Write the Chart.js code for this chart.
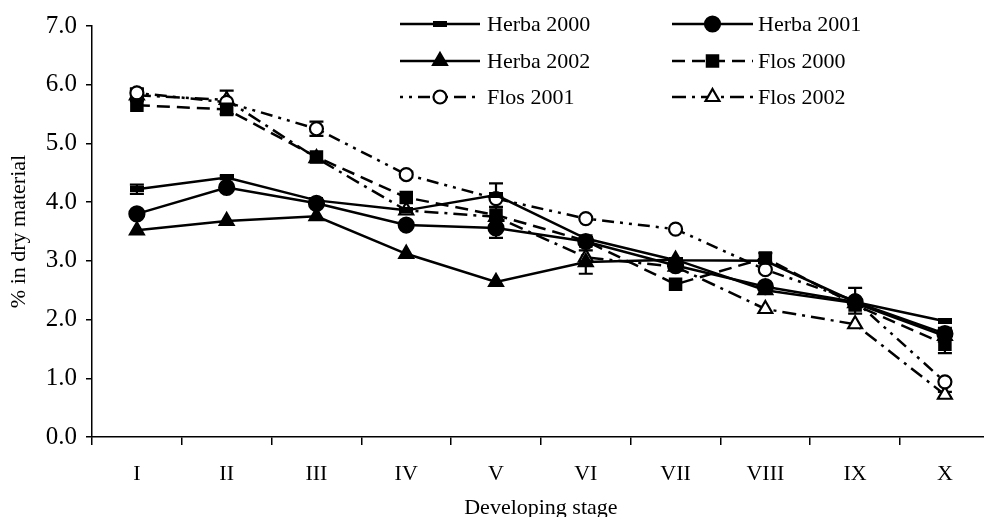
<!DOCTYPE html>
<html>
<head>
<meta charset="utf-8">
<script src="https://cdn.jsdelivr.net/npm/chart.js@4.4.1/dist/chart.umd.min.js"></script>
<style>
html,body{margin:0;padding:0;background:#fff;overflow:hidden;}
#wrap{width:984px;height:517px;position:relative;overflow:hidden;}
</style>
</head>
<body>
<div id="wrap"><canvas id="c" width="1000" height="517"></canvas></div>
<script>
const stages = ['I','II','III','IV','V','VI','VII','VIII','IX','X'];
const yTicks = [0,1,2,3,4,5,6,7];
const seriesNames = ['Herba 2000','Herba 2001','Herba 2002','Flos 2000','Flos 2001','Flos 2002'];

const herba2000 = [4.22, 4.42, 4.03, 3.86, 4.12, 3.38, 3.01, 3.00, 2.30, 1.97];
const herba2001 = [3.80, 4.25, 3.98, 3.61, 3.56, 3.33, 2.92, 2.56, 2.30, 1.76];
const herba2002 = [3.52, 3.68, 3.76, 3.12, 2.64, 2.98, 3.02, 2.50, 2.28, 1.72];
const flos2000  = [5.65, 5.58, 4.77, 4.08, 3.78, 3.34, 2.60, 3.05, 2.25, 1.58];
const flos2001  = [5.86, 5.70, 5.25, 4.47, 4.06, 3.72, 3.54, 2.85, 2.32, 0.94];
const flos2002  = [5.82, 5.74, 4.75, 3.86, 3.75, 3.06, 2.90, 2.18, 1.92, 0.72];

const herba2000Err = [0.08, 0.03, 0, 0, 0.20, 0, 0, 0, 0, 0];
const herba2001Err = [0, 0, 0, 0, 0.17, 0, 0, 0, 0, 0.10];
const herba2002Err = [0, 0, 0, 0, 0, 0.20, 0, 0, 0, 0];
const flos2000Err  = [0, 0, 0, 0, 0, 0, 0, 0.08, 0, 0.15];
const flos2001Err  = [0.08, 0.20, 0.12, 0.05, 0, 0, 0, 0, 0.22, 0];
const flos2002Err  = [0.10, 0, 0, 0, 0, 0, 0, 0, 0, 0.05];

const FONT = "'Liberation Serif','Times New Roman',serif";

// small horizontal bar marker for Herba 2000
const barMarker = document.createElement('canvas');
barMarker.width = 14; barMarker.height = 6;
(function(){const g = barMarker.getContext('2d'); g.fillStyle = '#000'; g.fillRect(0,0,14,6);})();

function ds(label, data, err, style, fill, dash, radius) {
  return {
    label, data, err,
    borderColor: '#000', borderWidth: 2.5, borderDash: dash,
    pointStyle: style, pointRadius: radius, pointHoverRadius: radius,
    pointBackgroundColor: fill, pointBorderColor: '#000', pointBorderWidth: 2.2,
    fill: false, tension: 0
  };
}

const datasets = [
  ds(seriesNames[0], herba2000, herba2000Err, barMarker, '#000', [], 6),
  ds(seriesNames[1], herba2001, herba2001Err, 'circle', '#000', [], 7.5),
  ds(seriesNames[2], herba2002, herba2002Err, 'triangle', '#000', [], 8),
  ds(seriesNames[3], flos2000, flos2000Err, 'rect', '#000', [13, 7], 8),
  ds(seriesNames[4], flos2001, flos2001Err, 'circle', '#fff', [3, 6, 3, 6, 12, 6], 6.5),
  ds(seriesNames[5], flos2002, flos2002Err, 'triangle', '#fff', [14, 6, 3, 6], 8)
];

function drawMarker(ctx, style, x, y, r, fill) {
  ctx.save();
  ctx.fillStyle = fill; ctx.strokeStyle = '#000'; ctx.lineWidth = 2.2; ctx.setLineDash([]);
  if (style instanceof HTMLCanvasElement) {
    ctx.drawImage(style, x - style.width / 2, y - style.height / 2);
  } else {
    ctx.beginPath();
    if (style === 'circle') {
      ctx.arc(x, y, r, 0, Math.PI * 2);
    } else if (style === 'triangle') {
      ctx.moveTo(x, y - r);
      ctx.lineTo(x + 0.866 * r, y + 0.5 * r);
      ctx.lineTo(x - 0.866 * r, y + 0.5 * r);
    } else if (style === 'rect') {
      const s = r * Math.SQRT1_2;
      ctx.rect(x - s, y - s, 2 * s, 2 * s);
    }
    ctx.closePath();
    ctx.fill(); ctx.stroke();
  }
  ctx.restore();
}

const errorBars = {
  id: 'errorBars',
  beforeDatasetsDraw(chart) {
    const ctx = chart.ctx, ys = chart.scales.y;
    ctx.save();
    ctx.strokeStyle = '#000'; ctx.lineWidth = 2.2; ctx.setLineDash([]);
    chart.data.datasets.forEach((d, di) => {
      const meta = chart.getDatasetMeta(di);
      d.data.forEach((v, i) => {
        const e = d.err[i];
        if (!e) return;
        const x = meta.data[i].x;
        const y1 = ys.getPixelForValue(v - e), y2 = ys.getPixelForValue(v + e);
        ctx.beginPath();
        ctx.moveTo(x, y1); ctx.lineTo(x, y2);
        ctx.moveTo(x - 7, y1); ctx.lineTo(x + 7, y1);
        ctx.moveTo(x - 7, y2); ctx.lineTo(x + 7, y2);
        ctx.stroke();
      });
    });
    ctx.restore();
  }
};

const legendBox = {
  id: 'legendBox',
  afterDraw(chart) {
    const ctx = chart.ctx;
    const cols = [{x0: 400, x1: 480, tx: 487}, {x0: 672, x1: 753, tx: 758}];
    const rows = [24, 61, 97];
    chart.data.datasets.forEach((d, i) => {
      const c = cols[i % 2], y = rows[Math.floor(i / 2)];
      ctx.save();
      ctx.strokeStyle = '#000'; ctx.lineWidth = 2.5; ctx.setLineDash(d.borderDash);
      ctx.beginPath(); ctx.moveTo(c.x0, y); ctx.lineTo(c.x1, y); ctx.stroke();
      ctx.restore();
      drawMarker(ctx, d.pointStyle, (c.x0 + c.x1) / 2, y, d.pointRadius, d.pointBackgroundColor);
      ctx.save();
      ctx.fillStyle = '#000'; ctx.font = "22px " + FONT; ctx.textBaseline = 'middle'; ctx.textAlign = 'left';
      ctx.fillText(d.label, c.tx, y + 1);
      ctx.restore();
    });
  }
};

new Chart(document.getElementById('c'), {
  type: 'line',
  data: { labels: stages, datasets },
  plugins: [errorBars, legendBox],
  options: {
    responsive: false, animation: false, devicePixelRatio: 1,
    layout: { padding: { left: 0, right: 0, top: 26, bottom: 0 } },
    plugins: { legend: { display: false }, tooltip: { enabled: false } },
    scales: {
      x: {
        type: 'category', offset: true,
        grid: { offset: true, drawOnChartArea: false, drawTicks: true, tickLength: 8, color: '#000', lineWidth: 1.5 },
        border: { display: true, color: '#000', width: 1.5 },
        ticks: { color: '#000', font: { family: FONT, size: 22 }, padding: 16, maxRotation: 0 },
        title: { display: true, text: 'Developing stage', color: '#000', font: { family: FONT, size: 22, lineHeight: 0.8 }, padding: { top: 0, bottom: 0 } },
        afterFit(s) { s.height = 80; }
      },
      y: {
        min: 0, max: 7,
        afterBuildTicks(s) { s.ticks = yTicks.map(v => ({ value: v })); },
        grid: { drawOnChartArea: false, drawTicks: true, tickLength: 6, color: '#000', lineWidth: 1.5 },
        border: { display: true, color: '#000', width: 1.5 },
        ticks: { color: '#000', font: { family: FONT, size: 25 }, padding: 9, callback: v => Number(v).toFixed(1) },
        title: { display: true, text: '% in dry material', color: '#000', font: { family: FONT, size: 22, lineHeight: 1 }, padding: { top: 8, bottom: 0 } },
        afterFit(s) { s.width = 92; }
      }
    }
  }
});
</script>
</body>
</html>
